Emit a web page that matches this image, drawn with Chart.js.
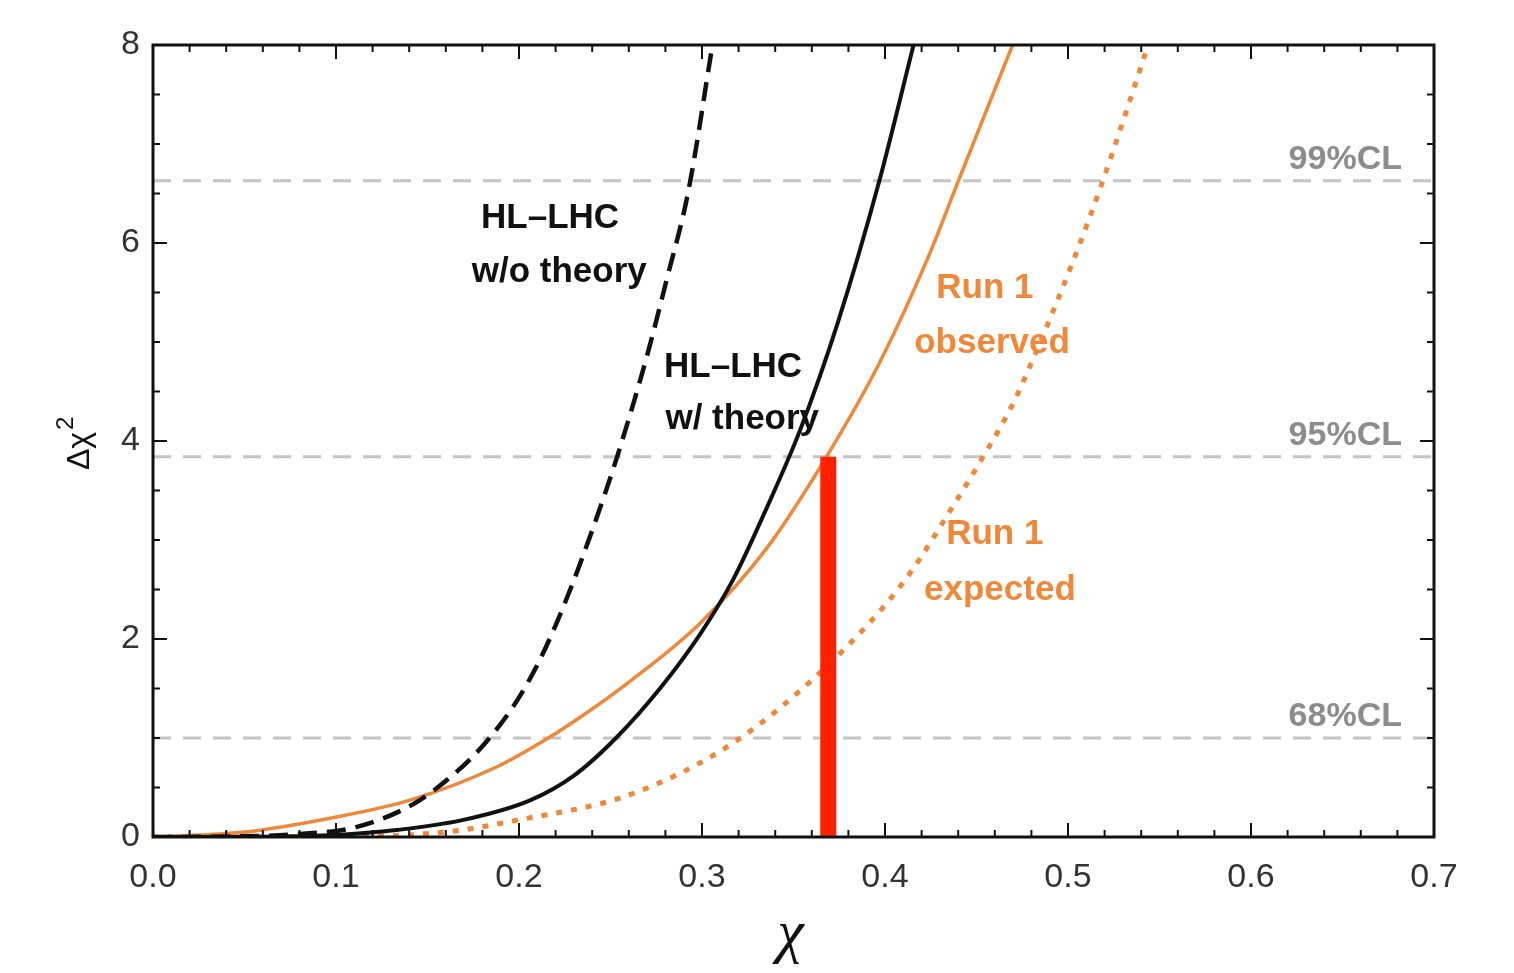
<!DOCTYPE html>
<html>
<head>
<meta charset="utf-8">
<script src="https://cdn.jsdelivr.net/npm/chart.js@4.4.0/dist/chart.umd.min.js"></script>
<style>
  html, body { margin: 0; padding: 0; background: #fff; }
</style>
</head>
<body>
<canvas id="myChart" width="1514" height="973"></canvas>
<script>
// curves (chi, delta chi^2)
var noTheory_x = [0, 0.04, 0.08, 0.111, 0.142, 0.166, 0.1825, 0.199, 0.213, 0.228, 0.241, 0.2536, 0.2698, 0.2807, 0.2925, 0.3057];
var noTheory_y = [0, 0.005, 0.03, 0.10, 0.33, 0.66, 0.97, 1.38, 1.85, 2.5, 3.15, 3.84, 4.85, 5.63, 6.52, 8.0];

var withTheory_x = [0, 0.06, 0.10, 0.133, 0.169, 0.206, 0.230, 0.253, 0.277, 0.299, 0.317, 0.3355, 0.3536, 0.3743, 0.3965, 0.4156];
var withTheory_y = [0, 0.003, 0.02, 0.07, 0.17, 0.37, 0.62, 1.0, 1.5, 2.05, 2.6, 3.33, 4.11, 5.2, 6.6, 8.0];

var observed_x = [0, 0.05, 0.0967, 0.14, 0.188, 0.216, 0.235, 0.259, 0.299, 0.3355, 0.368, 0.397, 0.4246, 0.4395, 0.4697];
var observed_y = [0, 0.05, 0.19, 0.37, 0.71, 1.0, 1.23, 1.55, 2.16, 2.92, 3.84, 4.79, 5.9, 6.6, 8.0];

var expected_x = [0, 0.10, 0.16, 0.199, 0.261, 0.317, 0.3645, 0.399, 0.415, 0.4337, 0.4536, 0.470, 0.483, 0.502, 0.5185, 0.5438];
var expected_y = [0, 0.003, 0.05, 0.17, 0.43, 0.95, 1.66, 2.32, 2.7, 3.24, 3.84, 4.38, 4.92, 5.78, 6.6, 8.0];

// confidence levels
var cl_values = [1.0, 3.84, 6.63];
var cl_labels = ['68%CL', '95%CL', '99%CL'];

// red marker
var marker_x = 0.369;
var marker_top = 3.84;

var x_ticks = [0, 0.1, 0.2, 0.3, 0.4, 0.5, 0.6, 0.7];
var y_ticks = [0, 2, 4, 6, 8];

// curve labels: text lines, anchor in data units
var notes = [
  { lines: ['HL\u2013LHC', 'w/o theory'], x: [0.217, 0.222], y: [6.25, 5.70], color: '#111' },
  { lines: ['HL\u2013LHC', 'w/ theory'], x: [0.317, 0.322], y: [4.74, 4.22], color: '#111' },
  { lines: ['Run 1', 'observed'], x: [0.4546, 0.4585], y: [5.54, 4.99], color: '#f0883a' },
  { lines: ['Run 1', 'expected'], x: [0.4600, 0.4628], y: [3.06, 2.49], color: '#f0883a' }
];

function pts(xs, ys) {
  var out = [];
  for (let i = 0; i < xs.length; i++) out.push({ x: xs[i], y: ys[i] });
  return out;
}

var orange = '#f0883a';
var datasets = [];

datasets.push({
  label: 'marker',
  data: [{ x: marker_x, y: 0 }, { x: marker_x, y: marker_top }],
  borderColor: '#ff2200',
  borderWidth: 16,
  borderCapStyle: 'butt'
});
datasets.push({
  label: 'HL-LHC w/o theory',
  data: pts(noTheory_x, noTheory_y),
  borderColor: '#111',
  borderWidth: 4.5,
  borderDash: [19, 10],
  cubicInterpolationMode: 'monotone'
});
datasets.push({
  label: 'HL-LHC w/ theory',
  data: pts(withTheory_x, withTheory_y),
  borderColor: '#111',
  borderWidth: 4,
  cubicInterpolationMode: 'monotone'
});
datasets.push({
  label: 'Run 1 observed',
  data: pts(observed_x, observed_y),
  borderColor: orange,
  borderWidth: 3.5,
  cubicInterpolationMode: 'monotone'
});
datasets.push({
  label: 'Run 1 expected',
  data: pts(expected_x, expected_y),
  borderColor: orange,
  borderWidth: 5,
  borderDash: [6, 9],
  cubicInterpolationMode: 'monotone'
});
for (let i = 0; i < cl_values.length; i++) {
  datasets.push({
    label: cl_labels[i],
    data: [{ x: 0, y: cl_values[i] }, { x: 0.7, y: cl_values[i] }],
    borderColor: '#c4c4c4',
    borderWidth: 3,
    borderDash: [18, 12]
  });
}

var notesPlugin = {
  id: 'notes',
  beforeDatasetsDraw(chart) {
    const ctx = chart.ctx, sx = chart.scales.x, sy = chart.scales.y;
    ctx.save();
    ctx.font = 'bold 35px "Liberation Sans", Arial, sans-serif';
    ctx.textAlign = 'center';
    ctx.textBaseline = 'middle';
    notes.forEach(function (n) {
      ctx.fillStyle = n.color;
      for (let i = 0; i < n.lines.length; i++) {
        ctx.fillText(n.lines[i], sx.getPixelForValue(n.x[i]), sy.getPixelForValue(n.y[i]));
      }
    });
    ctx.restore();
  },
  afterDatasetsDraw(chart) {
    const ctx = chart.ctx, a = chart.chartArea, sx = chart.scales.x, sy = chart.scales.y;
    ctx.save();
    // CL labels
    ctx.font = 'bold 34px "Liberation Sans", Arial, sans-serif';
    ctx.fillStyle = '#8c8c8c';
    ctx.textAlign = 'right';
    ctx.textBaseline = 'alphabetic';
    for (let i = 0; i < cl_values.length; i++) {
      ctx.fillText(cl_labels[i], sx.getPixelForValue(0.6825), sy.getPixelForValue(cl_values[i]) - 12);
    }
    // frame with inward ticks
    ctx.strokeStyle = '#111';
    ctx.lineWidth = 2;
    ctx.beginPath();
    for (let i = 0; i <= 35; i++) {
      const px = sx.getPixelForValue(i * 0.02), len = (i % 5) ? 7 : 14;
      ctx.moveTo(px, a.bottom); ctx.lineTo(px, a.bottom - len);
      ctx.moveTo(px, a.top); ctx.lineTo(px, a.top + len);
    }
    for (let j = 0; j <= 16; j++) {
      const py = sy.getPixelForValue(j * 0.5), len = (j % 4) ? 7 : 14;
      ctx.moveTo(a.left, py); ctx.lineTo(a.left + len, py);
      ctx.moveTo(a.right, py); ctx.lineTo(a.right - len, py);
    }
    ctx.stroke();
    ctx.lineWidth = 3;
    ctx.strokeRect(a.left, a.top, a.right - a.left, a.bottom - a.top);
    // axis titles
    ctx.fillStyle = '#111';
    ctx.textAlign = 'center';
    ctx.textBaseline = 'middle';
    ctx.font = 'italic 60px "Liberation Serif", "DejaVu Serif", serif';
    ctx.fillText('\u03c7', (a.left + a.right) / 2 - 3, 935);
    ctx.translate(80, 445);
    ctx.rotate(-Math.PI / 2);
    ctx.font = '32px "Liberation Sans", Arial, sans-serif';
    ctx.textAlign = 'left';
    const w = ctx.measureText('\u0394\u03c7').width;
    ctx.fillText('\u0394\u03c7', -w / 2 - 6, 0);
    ctx.font = '24px "Liberation Sans", Arial, sans-serif';
    ctx.fillText('2', w / 2 - 4, -14);
    ctx.restore();
  }
};

var chart = new Chart(document.getElementById('myChart').getContext('2d'), {
  type: 'line',
  data: { datasets: datasets },
  options: {
    responsive: false,
    animation: false,
    layout: { padding: { left: 0, right: 80, top: 45, bottom: 0 } },
    elements: { point: { radius: 0 }, line: { fill: false } },
    plugins: { legend: { display: false }, tooltip: { enabled: false } },
    scales: {
      x: {
        type: 'linear',
        min: 0, max: 0.7,
        afterFit: function (s) { s.height = 136; },
        afterBuildTicks: function (s) { s.ticks = x_ticks.map(function (v) { return { value: v }; }); },
        grid: { display: false, drawTicks: false },
        border: { display: false },
        ticks: {
          padding: 20,
          color: '#333',
          font: { family: '"Liberation Sans", Arial, sans-serif', size: 34 },
          callback: function (v) { return v.toFixed(1); },
          maxRotation: 0, autoSkip: false
        }
      },
      y: {
        type: 'linear',
        min: 0, max: 8,
        afterFit: function (s) { s.width = 153; },
        afterBuildTicks: function (s) { s.ticks = y_ticks.map(function (v) { return { value: v }; }); },
        grid: { display: false, drawTicks: false },
        border: { display: false },
        ticks: {
          padding: 13,
          color: '#333',
          font: { family: '"Liberation Sans", Arial, sans-serif', size: 34 },
          autoSkip: false
        }
      }
    }
  },
  plugins: [notesPlugin]
});
</script>
</body>
</html>
